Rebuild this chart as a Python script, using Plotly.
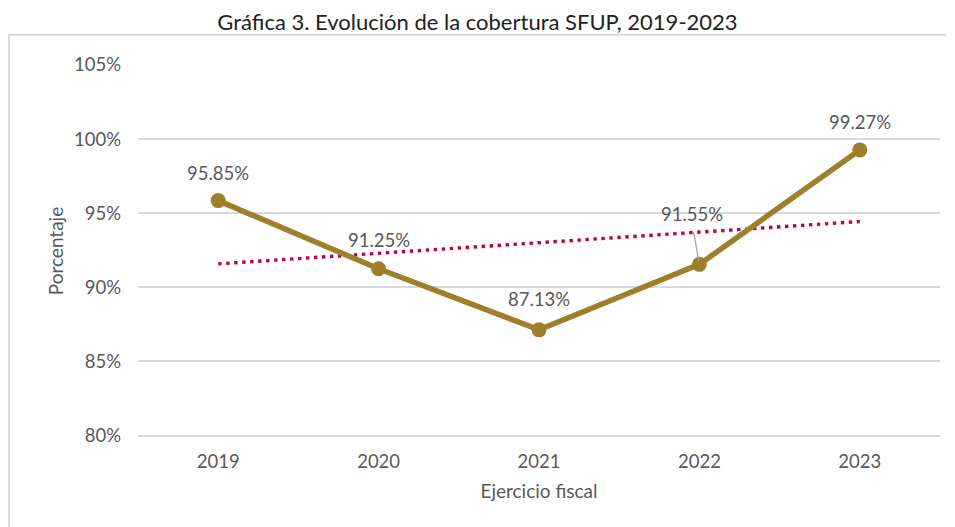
"""Gráfica 3. Evolución de la cobertura SFUP, 2019-2023 (Plotly)"""

import numpy as np
import plotly.graph_objects as go

years = ["2019", "2020", "2021", "2022", "2023"]
coverage = [95.85, 91.25, 87.13, 91.55, 99.27]
y_ticks = [80, 85, 90, 95, 100, 105]

FONT = "Lato, 'Noto Sans', sans-serif"
GOLD = "#9E7F2B"
TREND = "#C0004F"
GRAY = "#595959"

pos = list(range(len(years)))

# línea de tendencia lineal calculada sobre los datos
slope, intercept = np.polyfit(pos, coverage, 1)
trend = [float(slope * p + intercept) for p in pos]

fig = go.Figure()
fig.add_trace(go.Scatter(
    x=pos, y=trend, mode="lines",
    line=dict(color=TREND, width=3.4, dash="3.4px,4.6px"),
    hoverinfo="skip",
))
fig.add_trace(go.Scatter(
    x=pos, y=coverage, mode="lines+markers",
    line=dict(color=GOLD, width=5.5),
    marker=dict(size=15, color=GOLD),
    customdata=years,
    hovertemplate="%{customdata}: %{y:.2f}%<extra></extra>",
))

# etiquetas de datos
offsets = [(0, -28), (0, -29), (0, -31), (-7, -50), (0, -28)]
for p, v, (dx, dy) in zip(pos, coverage, offsets):
    fig.add_annotation(
        x=p, y=v, text=f"{v:.2f}%", showarrow=False,
        xshift=dx, yshift=-dy,
        font=dict(size=18.5, color=GRAY, family=FONT),
    )
# línea guía de 91.55%
fig.add_annotation(
    x=pos[3], y=coverage[3], text="", showarrow=True,
    arrowhead=0, arrowwidth=1.3, arrowcolor="#A6A6A6",
    ax=-6, ay=-34, standoff=3,
)

# marco del gráfico (recortado a la derecha y abajo)
fig.add_shape(
    type="rect", xref="paper", yref="paper",
    x0=-0.161, x1=1.2, y0=-0.5, y1=1.081,
    line=dict(color="#D9D9D9", width=2), layer="below",
)

fig.update_layout(
    width=955, height=527,
    paper_bgcolor="white", plot_bgcolor="white",
    margin=dict(l=130, r=23, t=57, b=97.5),
    showlegend=False,
    title=dict(
        text="Gráfica 3. Evolución de la cobertura SFUP, 2019-2023",
        x=0.4916, xanchor="center", y=0.9734, yanchor="middle",
        font=dict(size=22, color="#222222", family=FONT),
    ),
    font=dict(family=FONT, color=GRAY),
    xaxis=dict(
        range=[-0.5, len(years) - 0.5],
        tickvals=pos, ticktext=years,
        title=dict(text="Ejercicio fiscal", font=dict(size=19, color=GRAY), standoff=14),
        tickfont=dict(size=18.5, color=GRAY),
        showgrid=False, showline=False, ticks="", zeroline=False,
        ticklabelstandoff=11,
    ),
    yaxis=dict(
        title=dict(text="Porcentaje", font=dict(size=19, color=GRAY), standoff=5),
        range=[79.9, 105], tickvals=y_ticks,
        ticktext=[f"{t}%" for t in y_ticks],
        tickfont=dict(size=18.5, color=GRAY),
        showgrid=True, gridcolor="#D9D9D9", gridwidth=1.5,
        zeroline=False, showline=False, ticks="", ticklabelstandoff=16,
    ),
)

fig.write_html("out.html")
